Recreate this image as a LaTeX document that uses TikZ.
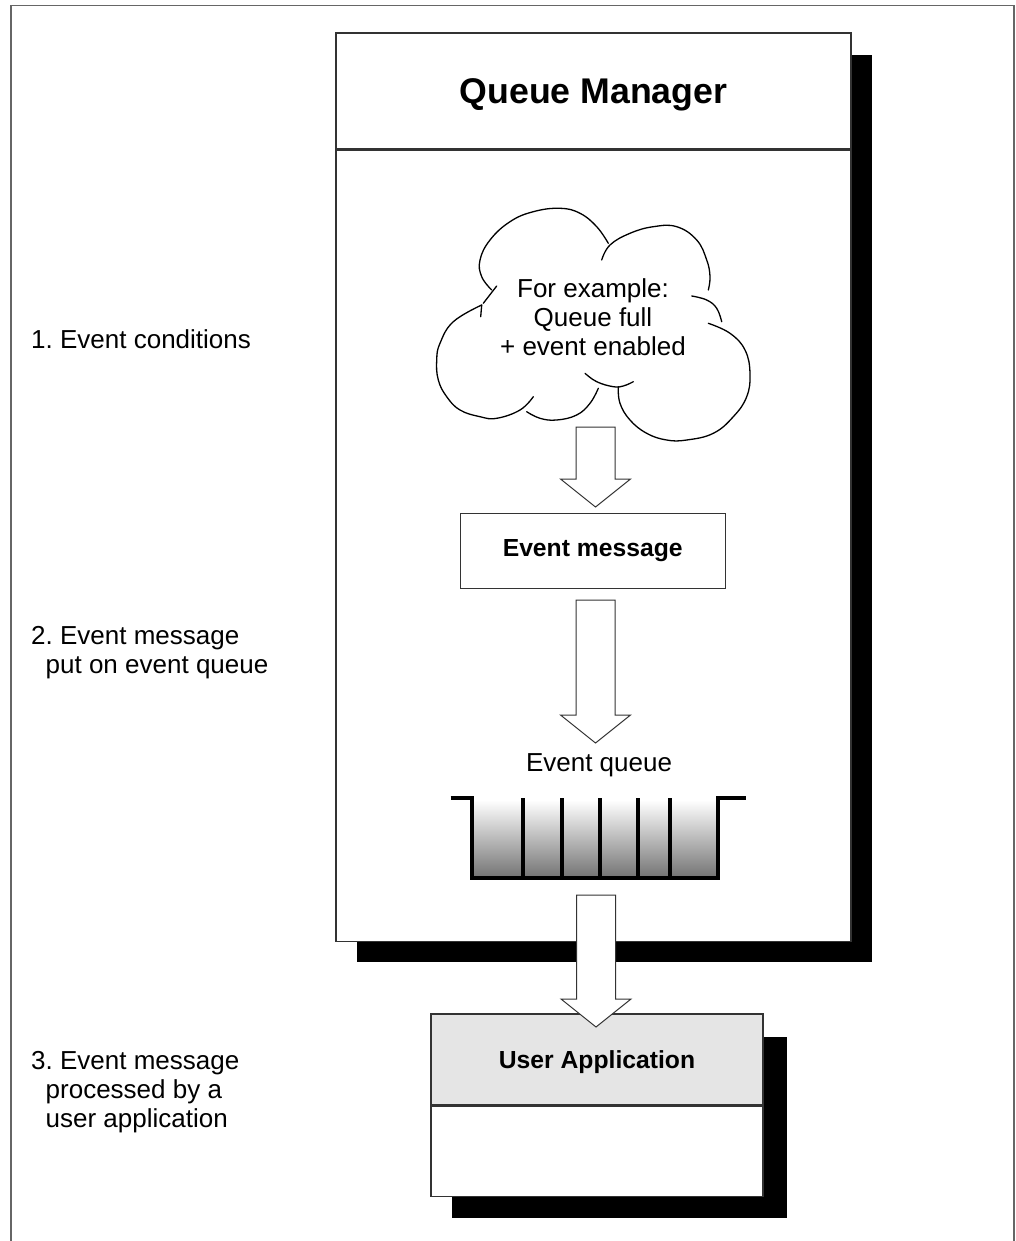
\documentclass[tikz,border=0pt]{standalone}
\usepackage{fontspec}
\setmainfont{Liberation Sans}
\usetikzlibrary{calc}
\definecolor{framegray}{gray}{0.4}
\definecolor{edgegray}{gray}{0.2}
\definecolor{headgray}{gray}{0.9}
\definecolor{qdark}{gray}{0.45}
\frenchspacing

\begin{document}
\begin{tikzpicture}[x=1pt,y=-1pt,
  boxline/.style={draw=edgegray, line width=1.3pt},
  plainbox/.style={boxline, fill=white, inner sep=0pt},
  shadowfill/.style={fill=black},
  bodytext/.style={font=\fontsize{26}{29}\selectfont, inner sep=0pt},
  boldtext/.style={font=\fontsize{24.7}{29}\selectfont\bfseries},
  titletext/.style={font=\fontsize{35.7}{40}\selectfont\bfseries},
  cloudline/.style={draw=black, line width=1.3pt, line cap=round},
  queuewall/.style={draw=black, line width=4pt, line join=miter},
  blockarrow/.style={draw=black!80, fill=white, line width=1pt, line join=miter,
    to path={let \p1=(\tikztostart), \p2=(\tikztotarget) in
      (\x1-19.5pt,\y1) -- (\x1+19.5pt,\y1) -- (\x1+19.5pt,\y2+28pt)
      -- (\x1+35pt,\y2+28pt) -- (\x1,\y2) -- (\x1-35pt,\y2+28pt)
      -- (\x1-19.5pt,\y2+28pt) -- cycle}}
]
\useasboundingbox (0,0) rectangle (1015,1241);

% outer frame (open at the bottom)
\draw[framegray, line width=1.4pt] (11,1241) -- (11,5.5) -- (1014,5.5) -- (1014,1241);

% ---------------- Queue manager ----------------
\fill[shadowfill] (357,55) rectangle (872,962);
\node[plainbox, titletext, text depth=0pt, minimum width=515, minimum height=116]
  (qmhead) at (593.5,91) {Queue Manager};
\node[plainbox, anchor=north, minimum width=515, minimum height=791]
  (qmbody) at (qmhead.south) {};

% event condition cloud
\draw[cloudline] plot[smooth, tension=0.7] coordinates {
  (491.7,290) (481.7,276.7) (480,260) (490,240) (510,221.7) (533.3,211.7)
  (560,208.3) (580,213.3) (596.7,226.7) (608.3,243.3)};
\draw[cloudline] plot[smooth, tension=0.7] coordinates {
  (601.7,260) (610,245) (630,233.3) (653.3,226.7) (676.7,226.7) (696.7,240)
  (706.7,260) (710,276.7) (708.3,290)};
\draw[cloudline] plot[smooth, tension=0.7] coordinates {
  (691.7,296) (706.7,300) (716.7,308.3) (721.7,321.7)};
\draw[cloudline] plot[smooth, tension=0.7] coordinates {
  (708.3,323.3) (730,333.3) (745,350) (750,373.3) (746.7,396.7) (733.3,416.7)
  (713.3,433.3) (686.7,440) (666.7,440) (646.7,433.3) (630,420) (620,403.3)
  (618.3,386.7)};
\draw[cloudline] plot[smooth, tension=0.7] coordinates {
  (585,373.3) (596.7,381.7) (613.3,386.7) (623.3,386) (633.3,381.7)};
\draw[cloudline] plot[smooth, tension=0.7] coordinates {
  (598.3,388.3) (590,403.3) (576.7,415) (556.7,420) (540,418.3) (526.7,411.7)};
\draw[cloudline] plot[smooth, tension=0.7] coordinates {
  (533.3,396.7) (520,410) (496.7,418.3) (480,416.7) (460,410) (446.7,396.7)
  (438.3,380) (436.7,360) (440,343.3) (453.3,321.7) (481.7,305)};
\draw[cloudline] (481.7,305) -- (480.7,316.7);
\draw[cloudline] (496.7,286) -- (483.3,303.3);
\node[bodytext, align=center, anchor=north] (cloud) at (593,278)
  {For example:\\Queue full\\+ event enabled};

% event message
\node[plainbox, boldtext, minimum width=265, minimum height=75]
  (evmsg) at (592.7,550.8) {Event message};

% event queue
\node[bodytext, anchor=base] (qlabel) at (599,771.7) {Event queue};
\shade[top color=white, bottom color=qdark] (471.7,800) rectangle (718.3,878);
\draw[queuewall] (450.7,798) -- (471.7,798) -- (471.7,878) -- (718.3,878)
  -- (718.3,798) -- (746,798);
\foreach \qx in {523.3,562.3,600,637.7,670}
  \draw[queuewall] (\qx,798) -- (\qx,878);

% ---------------- User application ----------------
\fill[shadowfill] (452,1037) rectangle (787,1218);
\node[boxline, fill=headgray, boldtext, text depth=0pt, minimum width=332,
  minimum height=91, inner sep=0pt] (app) at (597,1059.5) {User Application};
\node[plainbox, anchor=north, minimum width=332, minimum height=90]
  (appbody) at (app.south) {};

% ---------------- flow arrows ----------------
\coordinate (a1s) at (595.5,427);
\coordinate (a1e) at (595.5,507);
\coordinate (a2s) at (595.5,600);
\coordinate (a2e) at (595.5,743);
\coordinate (a3s) at (596,895);
\coordinate (a3e) at (596,1027);
\draw[blockarrow] (a1s) to (a1e);
\draw[blockarrow] (a2s) to (a2e);
\draw[blockarrow] (a3s) to (a3e);

% ---------------- step labels ----------------
\node[bodytext, align=left, anchor=north west] (step1) at (31,329.4)
  {1. Event conditions};
\node[bodytext, align=left, anchor=north west] (step2) at (31,626.4)
  {2. Event message\\\hspace*{14.5pt}put on event queue};
\node[bodytext, align=left, anchor=north west] (step3) at (31,1051.4)
  {3. Event message\\\hspace*{14.5pt}processed by a\\\hspace*{14.5pt}user application};
\end{tikzpicture}
\end{document}
